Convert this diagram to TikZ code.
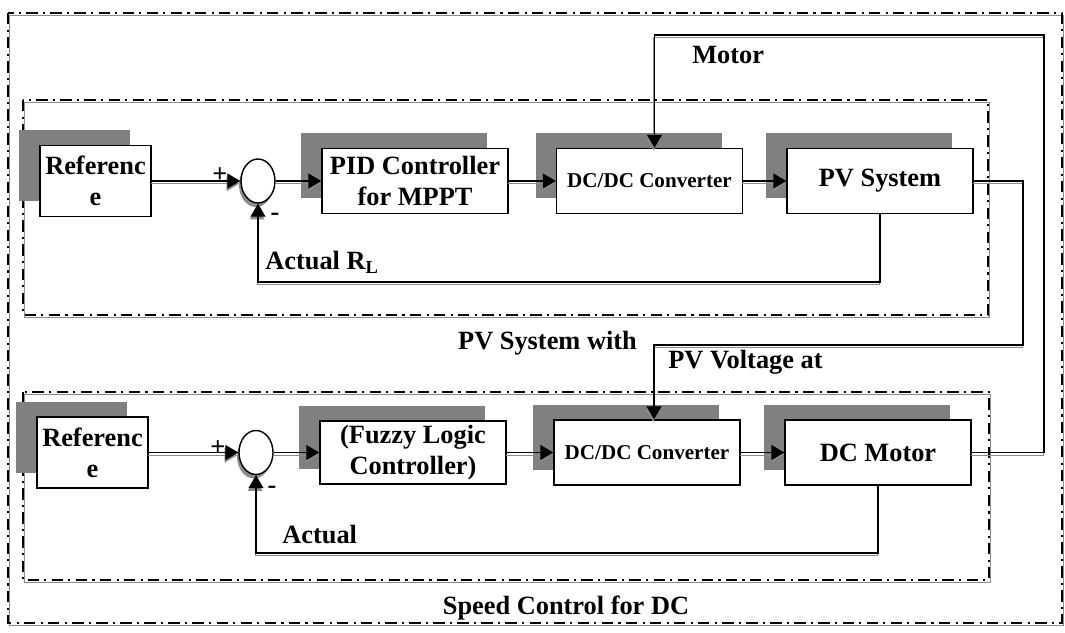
\documentclass[tikz,border=0pt]{standalone}
\usepackage{fontspec}
\setmainfont{Liberation Serif}
\usetikzlibrary{arrows.meta,shapes.geometric,shadows}

\begin{document}
\begin{tikzpicture}[
  txt/.style={font=\fontsize{15}{17.6}\selectfont\bfseries},
  block/.style={txt, draw, line width=0.8pt, fill=white, align=center,
    minimum width=3.72cm, minimum height=1.3cm, inner sep=1pt,
    general shadow={fill=black!50, shadow xshift=-4.2mm, shadow yshift=3.1mm}},
  sumnode/.style={draw, ellipse, line width=0.8pt, fill=white, inner sep=0pt,
    minimum width=0.68cm, minimum height=0.88cm,
    general shadow={fill=black!45, shadow xshift=-0.4mm, shadow yshift=-0.8mm}},
  link/.style={line width=0.6pt, -{Triangle[length=2.6mm, width=3mm]},
    preaction={draw=black!45, transform canvas={xshift=-0.5pt, yshift=-1.6pt}}},
  frame/.style={line width=0.8pt, dash pattern=on 6.5pt off 3pt on 1.2pt off 3pt,
    preaction={draw=black!45, transform canvas={xshift=0.6pt, yshift=-1.6pt}}},
  lbl/.style={txt, inner sep=0pt}
]
\useasboundingbox (0,0) rectangle (21.3,-12.64);

\draw [frame] (0.16,-0.26) rectangle (21.24,-12.46);
\draw [frame] (0.46,-2.0) rectangle (19.76,-6.3);
\draw [frame] (0.46,-7.84) rectangle (19.78,-11.6);

\node [block, minimum width=2.22cm, minimum height=1.42cm] (refA) at (1.91,-3.62) {Referenc\\e};
\node [sumnode] (sumA) at (5.16,-3.62) {};
\node [block] (pidA) at (8.3,-3.62) {PID Controller\\for MPPT};
\node [block, font=\fontsize{12}{14}\selectfont\bfseries] (convA) at (12.99,-3.62) {DC/DC Converter};
\node [block] (pvA) at (17.6,-3.62) {PV System};

\node [block, minimum width=2.22cm, minimum height=1.42cm] (refB) at (1.85,-9.05) {Referenc\\e};
\node [sumnode] (sumB) at (5.12,-9.05) {};
\node [block, minimum height=1.26cm] (fuzB) at (8.26,-9.05) {(Fuzzy Logic\\Controller)};
\node [block, font=\fontsize{12}{14}\selectfont\bfseries] (convB) at (12.94,-9.05) {DC/DC Converter};
\node [block] (motB) at (17.56,-9.05) {DC Motor};

\node [lbl] (plusA) at (4.4,-3.5) {+};
\node [lbl] (minusA) at (5.5,-4.34) {-};
\node [lbl] (plusB) at (4.36,-8.96) {+};
\node [lbl] (minusB) at (5.44,-9.8) {-};

\coordinate (fbA) at (17.6,-5.64);
\coordinate (fbB) at (17.56,-11.06);
\coordinate (pvOut) at (20.46,-6.9);
\coordinate (motOut) at (20.88,-0.7);

\draw [link] (refA) -- (sumA);
\draw [link] (sumA) -- (pidA);
\draw [link] (pidA) -- (convA);
\draw [link] (convA) -- (pvA);
\draw [link] (pvA.south) -- (fbA) -| (sumA.south);

\draw [link] (refB) -- (sumB);
\draw [link] (sumB) -- (fuzB);
\draw [link] (fuzB) -- (convB);
\draw [link] (convB) -- (motB);
\draw [link] (motB.south) -- (fbB) -| (sumB.south);

\draw [link] (pvA.east) -| (pvOut) -| ([xshift=1.4mm]convB.north);
\draw [link] (motB.east) -| (motOut) -| ([xshift=1mm]convA.north);

\node [lbl, anchor=west] (actA) at (5.3,-5.24) {Actual R\textsubscript{L}};
\node [lbl, anchor=west] (motTxt) at (13.84,-1.1) {Motor};
\node [lbl] (pvSys) at (10.95,-6.86) {PV System with};
\node [lbl, anchor=west] (pvVolt) at (13.36,-7.24) {PV Voltage at};
\node [lbl, anchor=west] (actB) at (5.64,-10.7) {Actual};
\node [lbl] (speed) at (11.32,-12.16) {Speed Control for DC};
\end{tikzpicture}
\end{document}
